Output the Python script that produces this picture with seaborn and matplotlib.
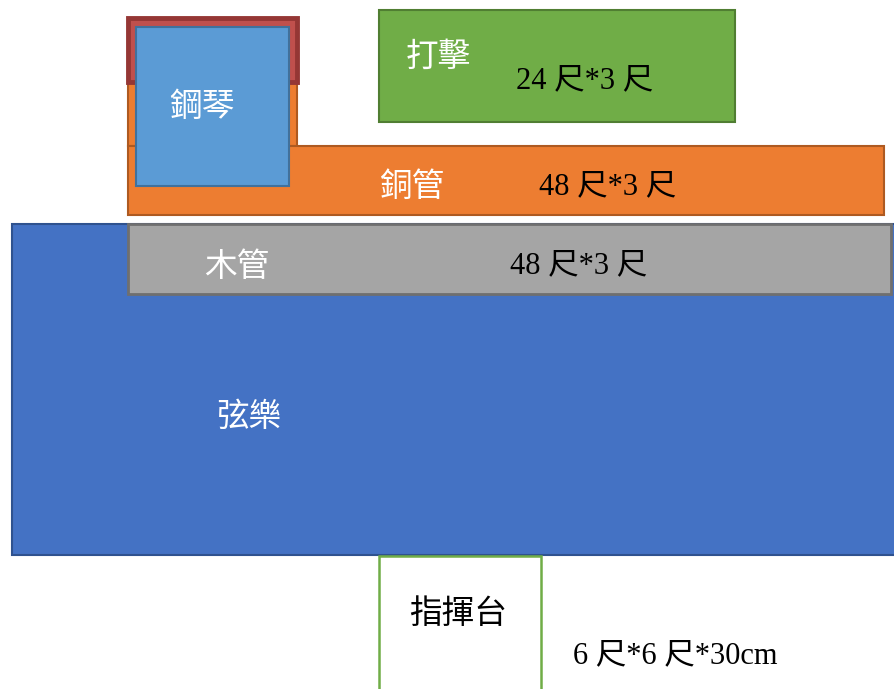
import matplotlib
matplotlib.use("Agg")
import matplotlib.pyplot as plt
import seaborn as sns

sns.set_theme(style="white")
plt.rcParams['font.family'] = ['Noto Sans CJK TC', 'DejaVu Sans']

# Stage blocks (pixel-like layout units, y measured from top)
sections = ["弦樂", "木管", "鋼琴底座", "銅管", "鋼琴框", "鋼琴", "打擊", "指揮台"]
left     = [12, 128, 128, 128, 128, 136, 379, 379]
top      = [224, 224, 18, 146, 18, 27, 10, 556]
width    = [890, 763, 169, 756, 169, 153, 356, 162]
height   = [331, 70, 128, 69, 64, 159, 112, 140]
fills    = ["#4472C4", "#A5A5A5", "#ED7D31", "#ED7D31", "#C0504D", "#5B9BD5", "#70AD47", "#FFFFFF"]
edges    = ["#2F528F", "#6F6F6F", "#AE5A21", "#AE5A21", "#953735", "#41719C", "#507E32", "#70AD47"]
lws      = [1.5, 2.0, 1.5, 1.5, 3.5, 1.5, 1.5, 1.8]

# Labels
name_labels = ["鋼琴", "打擊", "銅管", "木管", "弦樂", "指揮台"]
name_x      = [202, 438, 412, 237, 249, 458]
name_y      = [107, 57, 187, 267, 417, 614]
name_color  = ["white", "white", "white", "white", "white", "black"]

size_labels = ["24 尺*3 尺", "48 尺*3 尺", "48 尺*3 尺", "6 尺*6 尺*30cm"]
size_x      = [585, 608, 579, 675]
size_y      = [81, 187, 266, 656]

fig = plt.figure(figsize=(8.94, 6.89), dpi=100)
ax = fig.add_axes([0, 0, 1, 1])
ax.set_xlim(0, 894)
ax.set_ylim(689, 0)
ax.axis("off")

for i in range(len(sections)):
    ax.bar(left[i], height[i], width=width[i], bottom=top[i], align="edge",
           color=fills[i], edgecolor=edges[i], linewidth=lws[i], zorder=i + 1)

for t, x, y, c in zip(name_labels, name_x, name_y, name_color):
    ax.text(x, y, t, color=c, fontsize=23.5, ha="center", va="center", zorder=20,
            family=['Noto Sans CJK TC', 'DejaVu Sans'])

for t, x, y in zip(size_labels, size_x, size_y):
    ax.text(x, y, t, color="black", fontsize=22, ha="center", va="center", zorder=20,
            family=['Liberation Serif', 'Noto Sans CJK TC'])

fig.savefig("out.png", dpi=100)
